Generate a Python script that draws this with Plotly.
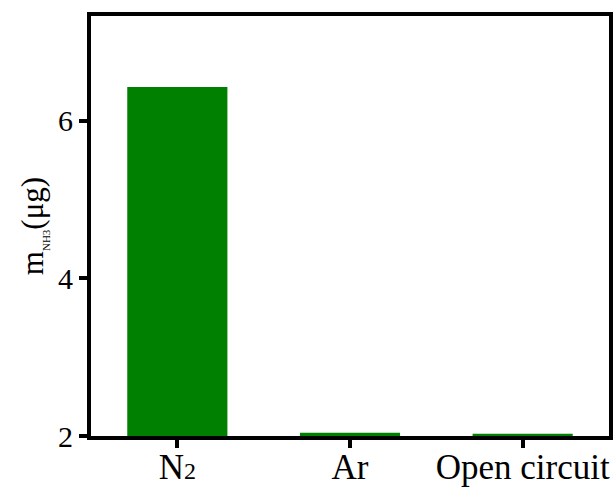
import plotly.graph_objects as go

categories = ['N<span style="font-size:24px">2</span>', "Ar", "Open circuit"]
values = [6.43, 2.04, 2.03]
y_ticks = [2, 4, 6]

fig = go.Figure()
fig.add_trace(go.Bar(
    x=categories, y=values, base=0,
    marker=dict(color="#008000", line=dict(width=0)),
    width=0.58,
))
fig.update_layout(
    width=616, height=497,
    margin=dict(l=91, r=7, t=16, b=61),
    paper_bgcolor="white", plot_bgcolor="white",
    font=dict(family="Liberation Serif", color="black", size=30),
    showlegend=False,
    xaxis=dict(
        range=[-0.5, 2.5], showline=True, linewidth=4, linecolor="black",
        mirror=True, ticks="outside", ticklen=8, tickwidth=4, tickcolor="black",
        tickfont=dict(size=35), showgrid=False, automargin=False,
        ticklabelstandoff=-11,
    ),
    yaxis=dict(
        range=[2, 7.33], showline=True, linewidth=4, linecolor="black",
        mirror=True, ticks="outside", ticklen=8, tickwidth=4, tickcolor="black",
        tickvals=y_ticks, tickfont=dict(size=30), showgrid=False, zeroline=False,
        automargin=False,
        title=dict(text='m<sub><span style="font-size:11px">NH3</span></sub>(μg)',
                   font=dict(size=31), standoff=6),
    ),
)
fig.write_html("out.html", config={"displayModeBar": False},
               post_script="document.body.style.margin='0';")
